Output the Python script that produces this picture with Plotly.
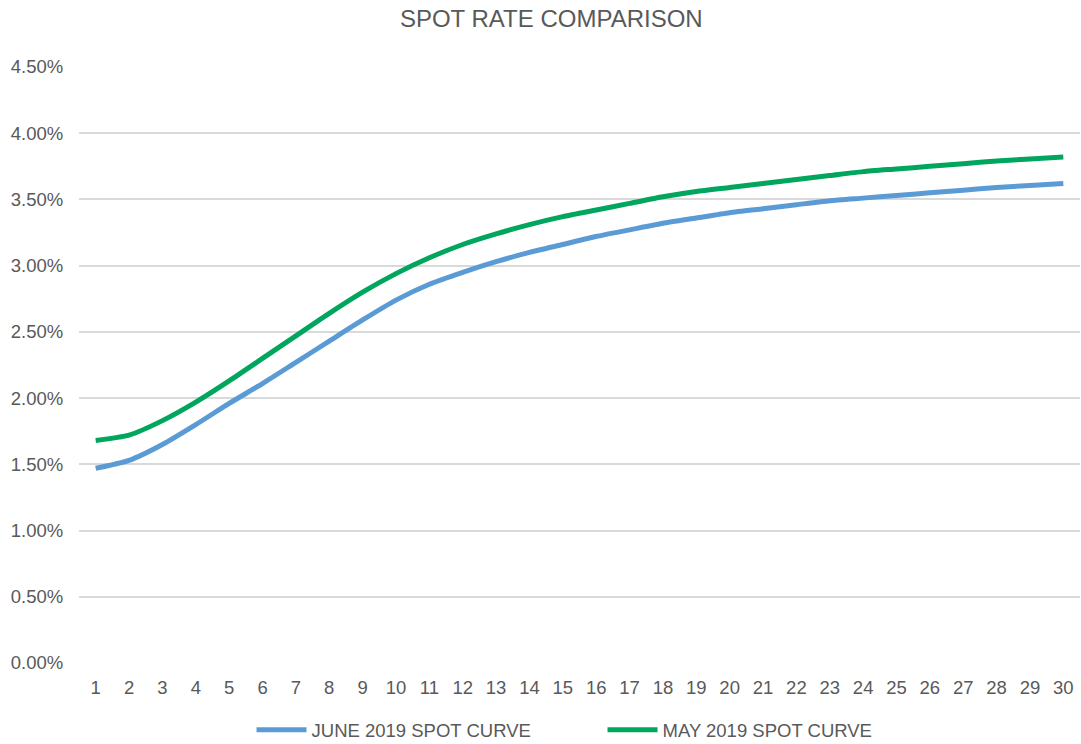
import plotly.graph_objects as go

maturity = list(range(1, 31))
june_2019 = [1.47, 1.53, 1.65, 1.80, 1.96, 2.11, 2.27, 2.43, 2.59, 2.74,
             2.86, 2.95, 3.03, 3.10, 3.16, 3.22, 3.27, 3.32, 3.36, 3.40,
             3.43, 3.46, 3.49, 3.51, 3.53, 3.55, 3.57, 3.59, 3.605, 3.62]
may_2019 = [1.68, 1.72, 1.83, 1.97, 2.13, 2.30, 2.47, 2.64, 2.80, 2.94,
            3.06, 3.16, 3.24, 3.31, 3.37, 3.42, 3.47, 3.52, 3.56, 3.59,
            3.62, 3.65, 3.68, 3.71, 3.73, 3.75, 3.77, 3.79, 3.805, 3.82]
y_ticks = [0.0, 0.5, 1.0, 1.5, 2.0, 2.5, 3.0, 3.5, 4.0, 4.5]

june_frac = [v / 100 for v in june_2019]
may_frac = [v / 100 for v in may_2019]

fig = go.Figure()
fig.add_trace(go.Scatter(x=maturity, y=june_frac, mode="lines",
                         name="JUNE 2019 SPOT CURVE",
                         line=dict(color="#5B9BD5", width=5, shape="spline", smoothing=0.6)))
fig.add_trace(go.Scatter(x=maturity, y=may_frac, mode="lines",
                         name="MAY 2019 SPOT CURVE",
                         line=dict(color="#00A65D", width=5, shape="spline", smoothing=0.6)))

font_family = "Liberation Sans, Arial, sans-serif"
fig.update_layout(
    width=1081, height=744,
    paper_bgcolor="white", plot_bgcolor="white",
    margin=dict(l=79, r=1, t=67, b=81, autoexpand=False),
    title=dict(text="SPOT RATE COMPARISON", x=0.51, xanchor="center",
               yref="container", y=0.975, yanchor="middle",
               font=dict(family=font_family, size=24, color="#595959")),
    font=dict(family=font_family, size=18.5, color="#595959"),
    showlegend=True,
    legend=dict(orientation="h", x=0.523, xanchor="center", y=-0.113, yanchor="middle",
                font=dict(size=18.5, color="#595959"), itemwidth=50,
                entrywidth=286, bgcolor="rgba(0,0,0,0)"),
    xaxis=dict(range=[0.5, 30.5], tickmode="array", tickvals=maturity,
               ticktext=[str(m) for m in maturity], automargin=False,
               showgrid=False, zeroline=False, showline=False,
               ticks="outside", ticklen=8, tickcolor="rgba(0,0,0,0)",
               tickfont=dict(size=18.5, color="#595959")),
    yaxis=dict(range=[0, 0.045], tickmode="array",
               tickvals=[t / 100 for t in y_ticks],
               ticktext=[f"{t:.2f}%" for t in y_ticks], automargin=False,
               showgrid=True, gridcolor="#D9D9D9", gridwidth=1.5,
               zeroline=False, showline=False,
               ticks="outside", ticklen=11, tickcolor="rgba(0,0,0,0)",
               tickfont=dict(size=18.5, color="#595959")),
)

fig.write_html("out.html", config={"displayModeBar": False},
               post_script="document.body.style.margin='0';document.body.style.overflow='hidden';")
